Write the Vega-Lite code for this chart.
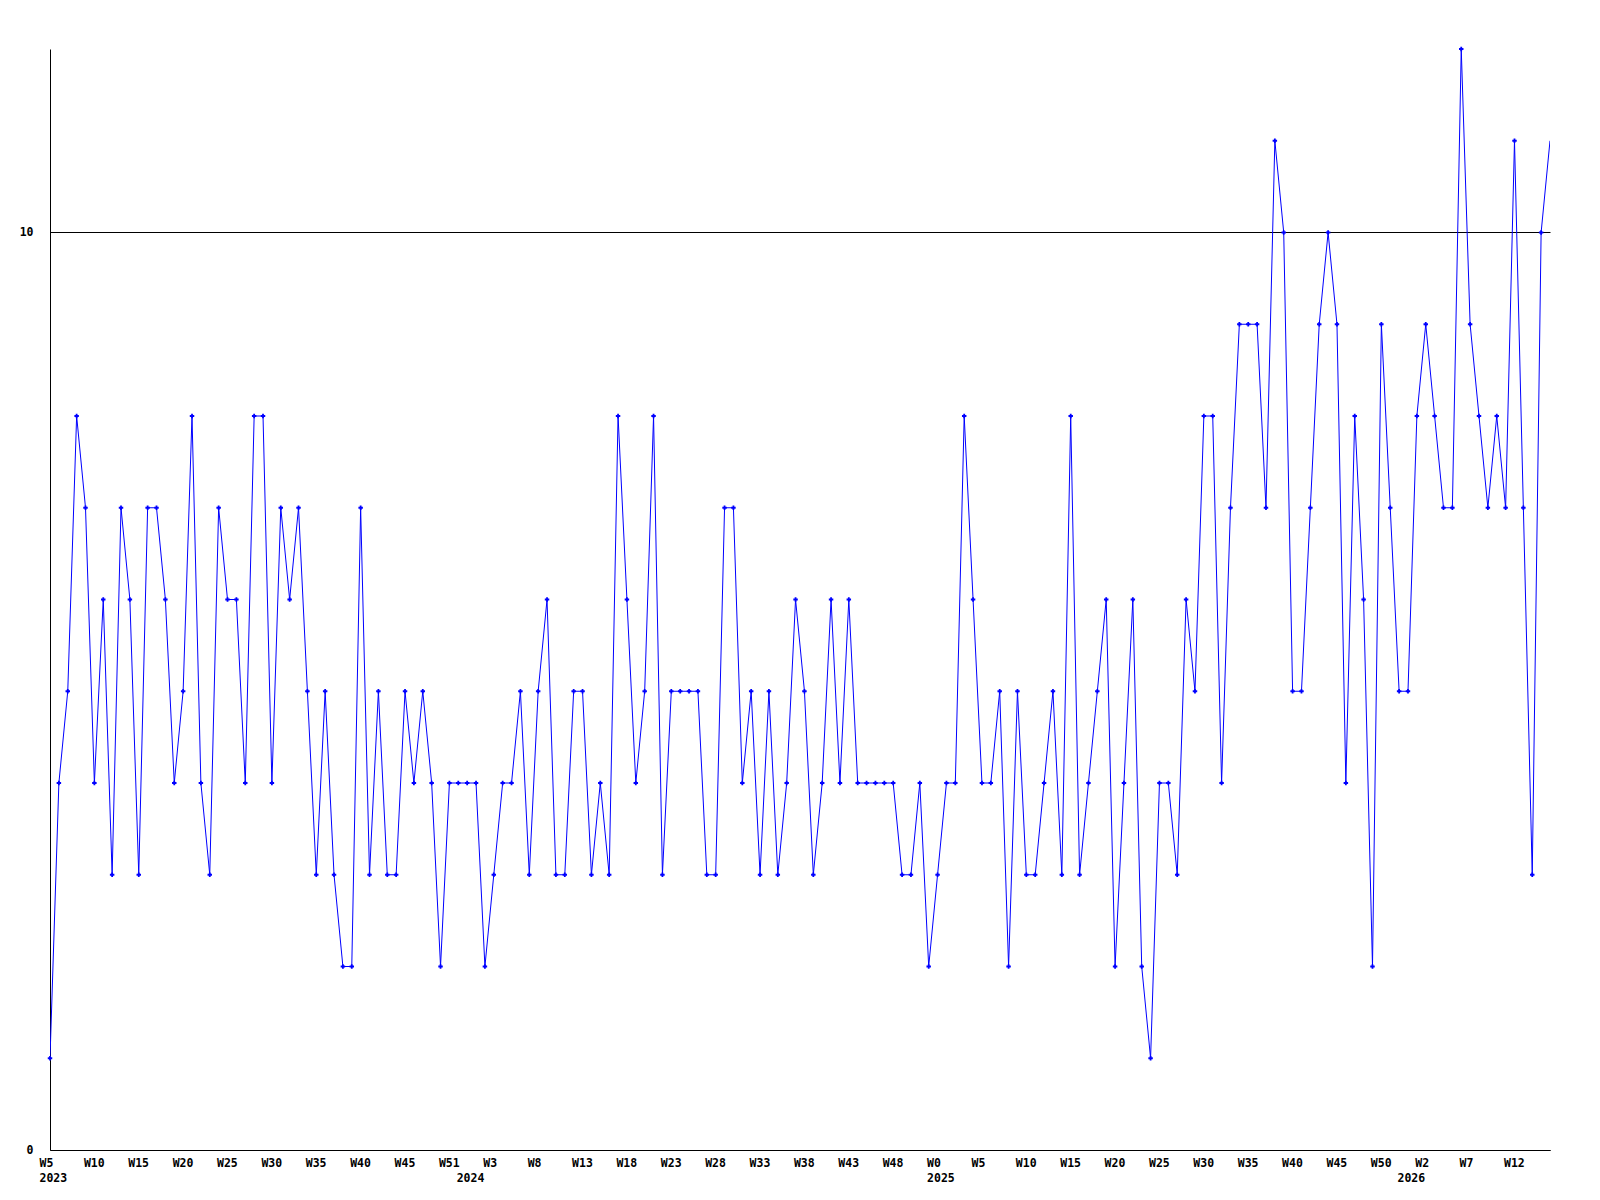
{
  "$schema": "https://vega.github.io/schema/vega-lite/v6.json",
  "autosize": {"type": "none"},
  "padding": {"left": 50, "top": 49, "right": 50, "bottom": 50},
  "width": 1500,
  "height": 1101,
  "background": "white",
  "config": {
    "view": {"stroke": null},
    "axis": {
      "labelFont": "DejaVu Sans Mono",
      "labelFontWeight": "bold",
      "labelFontSize": 11.5,
      "labelColor": "black",
      "domainColor": "black",
      "domainWidth": 1,
      "ticks": false,
      "title": null
    }
  },
  "data": {
    "values": [
      {"i":0,"v":1},{"i":1,"v":4},{"i":2,"v":5},{"i":3,"v":8},{"i":4,"v":7},{"i":5,"v":4},{"i":6,"v":6},{"i":7,"v":3},{"i":8,"v":7},{"i":9,"v":6},
      {"i":10,"v":3},{"i":11,"v":7},{"i":12,"v":7},{"i":13,"v":6},{"i":14,"v":4},{"i":15,"v":5},{"i":16,"v":8},{"i":17,"v":4},{"i":18,"v":3},{"i":19,"v":7},
      {"i":20,"v":6},{"i":21,"v":6},{"i":22,"v":4},{"i":23,"v":8},{"i":24,"v":8},{"i":25,"v":4},{"i":26,"v":7},{"i":27,"v":6},{"i":28,"v":7},{"i":29,"v":5},
      {"i":30,"v":3},{"i":31,"v":5},{"i":32,"v":3},{"i":33,"v":2},{"i":34,"v":2},{"i":35,"v":7},{"i":36,"v":3},{"i":37,"v":5},{"i":38,"v":3},{"i":39,"v":3},
      {"i":40,"v":5},{"i":41,"v":4},{"i":42,"v":5},{"i":43,"v":4},{"i":44,"v":2},{"i":45,"v":4},{"i":46,"v":4},{"i":47,"v":4},{"i":48,"v":4},{"i":49,"v":2},
      {"i":50,"v":3},{"i":51,"v":4},{"i":52,"v":4},{"i":53,"v":5},{"i":54,"v":3},{"i":55,"v":5},{"i":56,"v":6},{"i":57,"v":3},{"i":58,"v":3},{"i":59,"v":5},
      {"i":60,"v":5},{"i":61,"v":3},{"i":62,"v":4},{"i":63,"v":3},{"i":64,"v":8},{"i":65,"v":6},{"i":66,"v":4},{"i":67,"v":5},{"i":68,"v":8},{"i":69,"v":3},
      {"i":70,"v":5},{"i":71,"v":5},{"i":72,"v":5},{"i":73,"v":5},{"i":74,"v":3},{"i":75,"v":3},{"i":76,"v":7},{"i":77,"v":7},{"i":78,"v":4},{"i":79,"v":5},
      {"i":80,"v":3},{"i":81,"v":5},{"i":82,"v":3},{"i":83,"v":4},{"i":84,"v":6},{"i":85,"v":5},{"i":86,"v":3},{"i":87,"v":4},{"i":88,"v":6},{"i":89,"v":4},
      {"i":90,"v":6},{"i":91,"v":4},{"i":92,"v":4},{"i":93,"v":4},{"i":94,"v":4},{"i":95,"v":4},{"i":96,"v":3},{"i":97,"v":3},{"i":98,"v":4},{"i":99,"v":2},
      {"i":100,"v":3},{"i":101,"v":4},{"i":102,"v":4},{"i":103,"v":8},{"i":104,"v":6},{"i":105,"v":4},{"i":106,"v":4},{"i":107,"v":5},{"i":108,"v":2},{"i":109,"v":5},
      {"i":110,"v":3},{"i":111,"v":3},{"i":112,"v":4},{"i":113,"v":5},{"i":114,"v":3},{"i":115,"v":8},{"i":116,"v":3},{"i":117,"v":4},{"i":118,"v":5},{"i":119,"v":6},
      {"i":120,"v":2},{"i":121,"v":4},{"i":122,"v":6},{"i":123,"v":2},{"i":124,"v":1},{"i":125,"v":4},{"i":126,"v":4},{"i":127,"v":3},{"i":128,"v":6},{"i":129,"v":5},
      {"i":130,"v":8},{"i":131,"v":8},{"i":132,"v":4},{"i":133,"v":7},{"i":134,"v":9},{"i":135,"v":9},{"i":136,"v":9},{"i":137,"v":7},{"i":138,"v":11},{"i":139,"v":10},
      {"i":140,"v":5},{"i":141,"v":5},{"i":142,"v":7},{"i":143,"v":9},{"i":144,"v":10},{"i":145,"v":9},{"i":146,"v":4},{"i":147,"v":8},{"i":148,"v":6},{"i":149,"v":2},
      {"i":150,"v":9},{"i":151,"v":7},{"i":152,"v":5},{"i":153,"v":5},{"i":154,"v":8},{"i":155,"v":9},{"i":156,"v":8},{"i":157,"v":7},{"i":158,"v":7},{"i":159,"v":12},
      {"i":160,"v":9},{"i":161,"v":8},{"i":162,"v":7},{"i":163,"v":8},{"i":164,"v":7},{"i":165,"v":11},{"i":166,"v":7},{"i":167,"v":3},{"i":168,"v":10},{"i":169,"v":11}
    ]
  },
  "encoding": {
    "x": {
      "field": "i",
      "type": "quantitative",
      "scale": {"domain": [0, 169], "nice": false, "zero": false},
      "axis": {
        "values": [0,5,10,15,20,25,30,35,40,45,47,50,55,60,65,70,75,80,85,90,95,100,105,110,115,120,125,130,135,140,145,150,153,155,160,165],
        "labelExpr": "datum.value == 47 ? ['', '2024'] : datum.value == 153 ? ['', '2026'] : datum.value == 0 ? ['W5', '2023'] : datum.value == 100 ? ['W0', '2025'] : ['W5','W10','W15','W20','W25','W30','W35','W40','W45','W51','W3','W8','W13','W18','W23','W28','W33','W38','W43','W48','W0','W5','W10','W15','W20','W25','W30','W35','W40','W45','W50','W2','W7','W12'][round(datum.value / 5)]",
        "labelAlign": "left",
        "labelBaseline": "top",
        "labelOffset": -11,
        "labelPadding": 7,
        "labelLineHeight": 15,
        "labelOverlap": false,
        "labelBound": false,
        "labelFlush": false,
        "grid": false
      }
    },
    "y": {
      "field": "v",
      "type": "quantitative",
      "scale": {"domain": [0, 12], "nice": false},
      "axis": {
        "values": [0, 10],
        "grid": true,
        "gridColor": "black",
        "gridOpacity": 1,
        "gridWidth": 1,
        "labelPadding": 17,
        "labelOverlap": false,
        "labelBound": false,
        "labelFlush": false
      }
    }
  },
  "layer": [
    {
      "mark": {"type": "line", "color": "#0000ff", "strokeWidth": 1, "clip": true}
    },
    {
      "transform": [{"filter": "datum.i < 169"}],
      "mark": {"type": "point", "shape": "cross", "filled": true, "color": "#0000ff", "size": 20, "opacity": 1}
    }
  ]
}
